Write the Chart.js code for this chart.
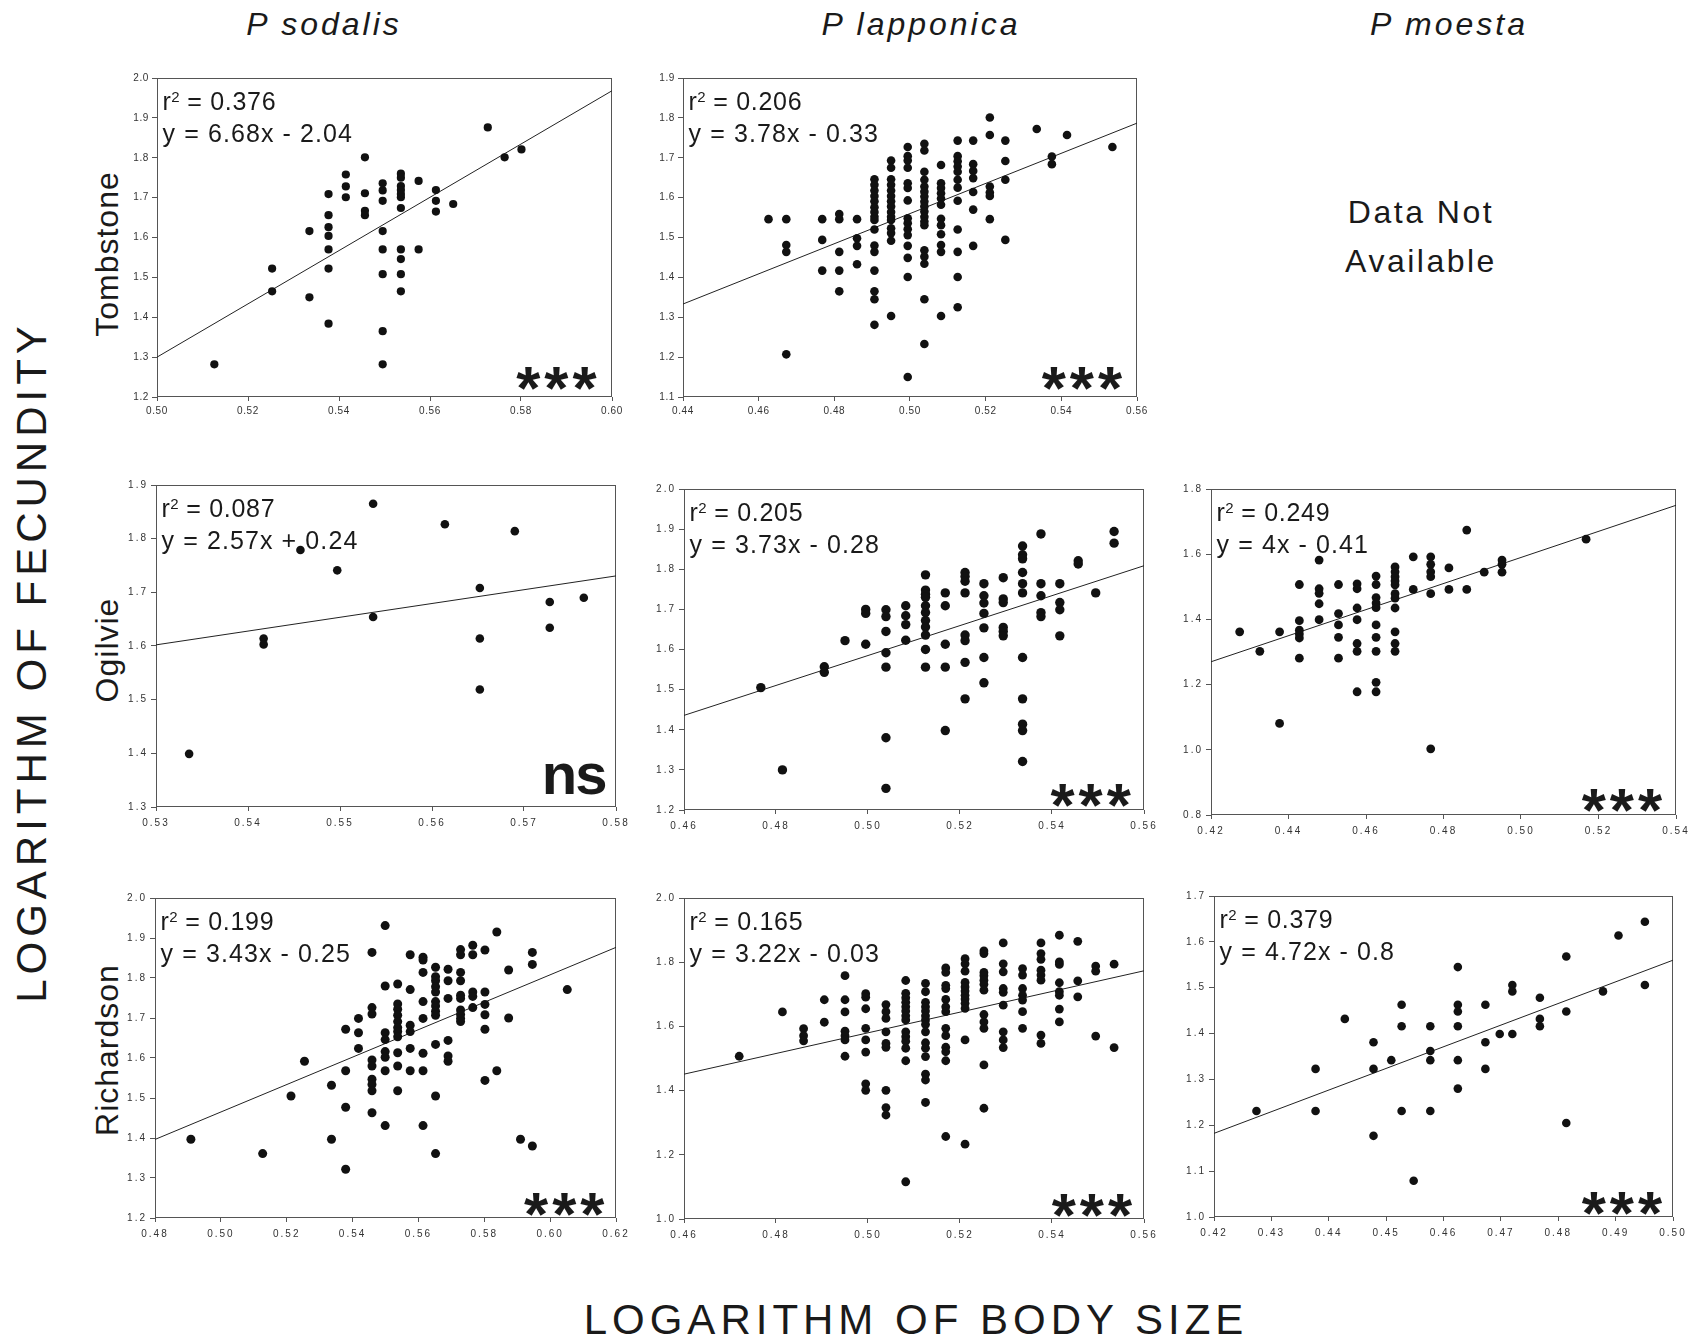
<!DOCTYPE html>
<html><head><meta charset="utf-8">
<script src="https://cdn.jsdelivr.net/npm/chart.js@4.4.1/dist/chart.umd.min.js"></script>
<style>
html,body{margin:0;padding:0;background:#fff;}
body{width:1695px;height:1344px;position:relative;overflow:hidden;font-family:"Liberation Sans",Arial,Helvetica,sans-serif;color:#1a1a1a;}
.t{position:absolute;white-space:nowrap;line-height:1;}
canvas{position:absolute;}
</style></head><body>
<div class="t" style="left:124px;width:400px;top:8px;font-size:32px;font-style:italic;text-align:center;letter-spacing:3px">P sodalis</div>
<div class="t" style="left:721px;width:400px;top:8px;font-size:32px;font-style:italic;text-align:center;letter-spacing:3px">P lapponica</div>
<div class="t" style="left:1249px;width:400px;top:8px;font-size:32px;font-style:italic;text-align:center;letter-spacing:3px">P moesta</div>
<div class="t" style="left:-368px;width:800px;top:641px;height:42px;font-size:42px;text-align:center;letter-spacing:5px;transform:rotate(-90deg)">LOGARITHM OF FECUNDITY</div>
<div class="t" style="left:516px;width:800px;top:1299px;font-size:42px;text-align:center;letter-spacing:5px">LOGARITHM OF BODY SIZE</div>
<div class="t" style="left:-43px;width:300px;top:238px;height:32px;font-size:32px;text-align:center;letter-spacing:1px;transform:rotate(-90deg)">Tombstone</div>
<div class="t" style="left:-43px;width:300px;top:634px;height:32px;font-size:32px;text-align:center;letter-spacing:1px;transform:rotate(-90deg)">Ogilvie</div>
<div class="t" style="left:-43px;width:300px;top:1034px;height:32px;font-size:32px;text-align:center;letter-spacing:1px;transform:rotate(-90deg)">Richardson</div>
<div class="t" style="left:1271px;width:300px;top:196px;font-size:32px;text-align:center;letter-spacing:2.5px">Data Not</div>
<div class="t" style="left:1271px;width:300px;top:245px;font-size:32px;text-align:center;letter-spacing:2.5px">Available</div>
<script>
// ---------- DATA (log body size, log fecundity) ----------
const tombSodalis = [[0.5126,1.282],[0.5253,1.522],[0.5253,1.465],[0.5335,1.616],[0.5335,1.450],
[0.5377,1.709],[0.5377,1.656],[0.5377,1.626],[0.5377,1.604],[0.5377,1.570],[0.5377,1.522],[0.5377,1.384],
[0.5415,1.758],[0.5415,1.728],[0.5415,1.701],[0.5457,1.801],[0.5457,1.711],[0.5457,1.667],[0.5457,1.656],
[0.5496,1.736],[0.5496,1.718],[0.5496,1.692],[0.5496,1.616],[0.5496,1.570],[0.5496,1.508],[0.5496,1.365],[0.5496,1.282],
[0.5536,1.760],[0.5536,1.750],[0.5536,1.729],[0.5536,1.719],[0.5536,1.709],[0.5536,1.701],[0.5536,1.674],[0.5536,1.570],
[0.5536,1.546],[0.5536,1.508],[0.5536,1.465],[0.5575,1.742],[0.5575,1.570],[0.5613,1.719],[0.5613,1.692],[0.5613,1.665],
[0.5651,1.684],[0.5727,1.876],[0.5764,1.801],[0.5801,1.821]];

const tombLapponica = [[0.4626,1.546],
[0.4673,1.546],[0.4673,1.481],[0.4673,1.464],[0.4673,1.207],
[0.4768,1.546],[0.4768,1.494],[0.4768,1.417],
[0.4813,1.559],[0.4813,1.546],[0.4813,1.464],[0.4813,1.417],[0.4813,1.365],
[0.4860,1.546],[0.4860,1.498],[0.4860,1.479],[0.4860,1.433],
[0.4906,1.646],[0.4906,1.632],[0.4906,1.618],[0.4906,1.604],[0.4906,1.591],[0.4906,1.576],[0.4906,1.564],[0.4906,1.552],
[0.4906,1.544],[0.4906,1.520],[0.4906,1.480],[0.4906,1.464],[0.4906,1.417],[0.4906,1.365],[0.4906,1.345],[0.4906,1.281],
[0.4950,1.693],[0.4950,1.675],[0.4950,1.646],[0.4950,1.632],[0.4950,1.618],[0.4950,1.604],[0.4950,1.591],[0.4950,1.578],
[0.4950,1.564],[0.4950,1.552],[0.4950,1.544],[0.4950,1.523],[0.4950,1.511],[0.4950,1.492],[0.4950,1.303],
[0.4994,1.727],[0.4994,1.704],[0.4994,1.693],[0.4994,1.675],[0.4994,1.636],[0.4994,1.624],[0.4994,1.593],[0.4994,1.548],
[0.4994,1.536],[0.4994,1.521],[0.4994,1.506],[0.4994,1.479],[0.4994,1.449],[0.4994,1.401],[0.4994,1.150],
[0.5038,1.735],[0.5038,1.718],[0.5038,1.665],[0.5038,1.645],[0.5038,1.628],[0.5038,1.615],[0.5038,1.603],[0.5038,1.590],
[0.5038,1.578],[0.5038,1.565],[0.5038,1.552],[0.5038,1.540],[0.5038,1.531],[0.5038,1.468],[0.5038,1.452],[0.5038,1.434],
[0.5038,1.345],[0.5038,1.233],
[0.5082,1.682],[0.5082,1.636],[0.5082,1.624],[0.5082,1.611],[0.5082,1.598],[0.5082,1.582],[0.5082,1.547],[0.5082,1.531],
[0.5082,1.508],[0.5082,1.481],[0.5082,1.464],[0.5082,1.303],
[0.5126,1.743],[0.5126,1.704],[0.5126,1.691],[0.5126,1.678],[0.5126,1.665],[0.5126,1.645],[0.5126,1.625],[0.5126,1.592],
[0.5126,1.520],[0.5126,1.464],[0.5126,1.401],[0.5126,1.325],
[0.5167,1.743],[0.5167,1.684],[0.5167,1.667],[0.5167,1.649],[0.5167,1.614],[0.5167,1.570],[0.5167,1.479],
[0.5211,1.801],[0.5211,1.757],[0.5211,1.628],[0.5211,1.613],[0.5211,1.604],[0.5211,1.546],
[0.5252,1.743],[0.5252,1.692],[0.5252,1.645],[0.5252,1.494],
[0.5335,1.772],[0.5375,1.703],[0.5375,1.684],[0.5415,1.757],[0.5535,1.727]];

const ogilSodalis = [[0.5336,1.399],[0.5417,1.614],[0.5417,1.603],[0.5457,1.779],[0.5497,1.741],[0.5536,1.865],
[0.5536,1.654],[0.5614,1.827],[0.5652,1.708],[0.5652,1.614],[0.5652,1.519],[0.5690,1.814],[0.5728,1.682],
[0.5728,1.634],[0.5765,1.690]];

const ogilLapponica = [[0.4767,1.505],[0.4814,1.300],[0.4905,1.557],[0.4905,1.543],[0.4950,1.622],
[0.4995,1.700],[0.4995,1.690],[0.4995,1.613],
[0.5039,1.699],[0.5039,1.682],[0.5039,1.645],[0.5039,1.592],[0.5039,1.556],[0.5039,1.380],[0.5039,1.254],
[0.5082,1.709],[0.5082,1.684],[0.5082,1.662],[0.5082,1.623],
[0.5125,1.786],[0.5125,1.748],[0.5125,1.738],[0.5125,1.730],[0.5125,1.709],[0.5125,1.692],[0.5125,1.672],[0.5125,1.656],
[0.5125,1.636],[0.5125,1.600],[0.5125,1.556],
[0.5168,1.741],[0.5168,1.709],[0.5168,1.613],[0.5168,1.556],[0.5168,1.398],
[0.5211,1.792],[0.5211,1.782],[0.5211,1.770],[0.5211,1.741],[0.5211,1.636],[0.5211,1.622],[0.5211,1.568],[0.5211,1.477],
[0.5252,1.764],[0.5252,1.734],[0.5252,1.716],[0.5252,1.690],[0.5252,1.654],[0.5252,1.580],[0.5252,1.517],
[0.5294,1.779],[0.5294,1.726],[0.5294,1.717],[0.5294,1.655],[0.5294,1.645],[0.5294,1.634],
[0.5336,1.858],[0.5336,1.836],[0.5336,1.826],[0.5336,1.792],[0.5336,1.764],[0.5336,1.741],[0.5336,1.580],[0.5336,1.477],
[0.5336,1.414],[0.5336,1.398],[0.5336,1.321],
[0.5376,1.888],[0.5376,1.764],[0.5376,1.734],[0.5376,1.692],[0.5376,1.682],
[0.5417,1.764],[0.5417,1.717],[0.5417,1.699],[0.5417,1.634],
[0.5457,1.821],[0.5457,1.813],[0.5495,1.741],[0.5535,1.894],[0.5535,1.865]];

const ogilMoesta = [[0.4274,1.362],[0.4326,1.302],[0.4377,1.362],[0.4377,1.081],
[0.4428,1.507],[0.4428,1.396],[0.4428,1.367],[0.4428,1.355],[0.4428,1.343],[0.4428,1.281],
[0.4479,1.582],[0.4479,1.494],[0.4479,1.480],[0.4479,1.448],[0.4479,1.399],
[0.4529,1.507],[0.4529,1.418],[0.4529,1.383],[0.4529,1.345],[0.4529,1.281],
[0.4577,1.509],[0.4577,1.494],[0.4577,1.435],[0.4577,1.399],[0.4577,1.326],[0.4577,1.302],[0.4577,1.178],
[0.4626,1.533],[0.4626,1.507],[0.4626,1.467],[0.4626,1.450],[0.4626,1.436],[0.4626,1.383],[0.4626,1.345],[0.4626,1.302],
[0.4626,1.207],[0.4626,1.178],
[0.4675,1.561],[0.4675,1.546],[0.4675,1.531],[0.4675,1.518],[0.4675,1.506],[0.4675,1.479],[0.4675,1.465],[0.4675,1.435],
[0.4675,1.362],[0.4675,1.326],[0.4675,1.302],
[0.4722,1.592],[0.4722,1.492],
[0.4767,1.592],[0.4767,1.569],[0.4767,1.546],[0.4767,1.531],[0.4767,1.479],[0.4767,1.003],
[0.4814,1.558],[0.4814,1.492],[0.4860,1.674],[0.4860,1.492],[0.4905,1.545],
[0.4951,1.582],[0.4951,1.569],[0.4951,1.545],[0.5168,1.646]];

const richSodalis = [[0.4909,1.397],[0.5127,1.361],[0.5213,1.505],[0.5254,1.592],[0.5336,1.532],[0.5336,1.397],
[0.5379,1.672],[0.5379,1.568],[0.5379,1.477],[0.5379,1.322],
[0.5418,1.699],[0.5418,1.663],[0.5418,1.624],
[0.5459,1.864],[0.5459,1.726],[0.5459,1.710],[0.5459,1.595],[0.5459,1.580],[0.5459,1.547],[0.5459,1.534],[0.5459,1.518],[0.5459,1.463],
[0.5499,1.931],[0.5499,1.780],[0.5499,1.663],[0.5499,1.646],[0.5499,1.616],[0.5499,1.602],[0.5499,1.568],[0.5499,1.431],
[0.5537,1.785],[0.5537,1.735],[0.5537,1.722],[0.5537,1.707],[0.5537,1.691],[0.5537,1.676],[0.5537,1.666],[0.5537,1.653],
[0.5537,1.613],[0.5537,1.580],[0.5537,1.518],
[0.5575,1.858],[0.5575,1.771],[0.5575,1.682],[0.5575,1.666],[0.5575,1.624],[0.5575,1.568],
[0.5614,1.852],[0.5614,1.845],[0.5614,1.814],[0.5614,1.741],[0.5614,1.699],[0.5614,1.612],[0.5614,1.568],[0.5614,1.431],
[0.5652,1.827],[0.5652,1.803],[0.5652,1.793],[0.5652,1.778],[0.5652,1.765],[0.5652,1.741],[0.5652,1.730],[0.5652,1.717],
[0.5652,1.707],[0.5652,1.634],[0.5652,1.505],[0.5652,1.361],
[0.5690,1.822],[0.5690,1.793],[0.5690,1.749],[0.5690,1.644],[0.5690,1.605],[0.5690,1.592],
[0.5728,1.871],[0.5728,1.858],[0.5728,1.814],[0.5728,1.793],[0.5728,1.757],[0.5728,1.749],[0.5728,1.720],[0.5728,1.709],
[0.5728,1.699],[0.5728,1.691],
[0.5765,1.882],[0.5765,1.858],[0.5765,1.765],[0.5765,1.754],[0.5765,1.726],
[0.5802,1.870],[0.5802,1.765],[0.5802,1.734],[0.5802,1.708],[0.5802,1.672],[0.5802,1.544],
[0.5838,1.915],[0.5838,1.568],[0.5874,1.820],[0.5874,1.700],[0.5910,1.397],
[0.5946,1.864],[0.5946,1.834],[0.5946,1.380],[0.6052,1.771]];

const richLapponica = [[0.4720,1.507],[0.4814,1.645],[0.4860,1.593],[0.4860,1.571],[0.4860,1.555],
[0.4905,1.683],[0.4905,1.613],
[0.4950,1.758],[0.4950,1.683],[0.4950,1.645],[0.4950,1.585],[0.4950,1.571],[0.4950,1.558],[0.4950,1.507],
[0.4995,1.702],[0.4995,1.691],[0.4995,1.655],[0.4995,1.594],[0.4995,1.558],[0.4995,1.520],[0.4995,1.421],[0.4995,1.401],
[0.5039,1.668],[0.5039,1.646],[0.5039,1.625],[0.5039,1.583],[0.5039,1.547],[0.5039,1.535],[0.5039,1.401],[0.5039,1.347],[0.5039,1.324],
[0.5082,1.743],[0.5082,1.703],[0.5082,1.689],[0.5082,1.675],[0.5082,1.661],[0.5082,1.648],[0.5082,1.633],[0.5082,1.620],
[0.5082,1.583],[0.5082,1.568],[0.5082,1.554],[0.5082,1.532],[0.5082,1.493],[0.5082,1.116],
[0.5125,1.734],[0.5125,1.708],[0.5125,1.675],[0.5125,1.661],[0.5125,1.648],[0.5125,1.633],[0.5125,1.620],[0.5125,1.606],
[0.5125,1.583],[0.5125,1.549],[0.5125,1.532],[0.5125,1.506],[0.5125,1.451],[0.5125,1.433],[0.5125,1.363],
[0.5169,1.782],[0.5169,1.768],[0.5169,1.728],[0.5169,1.718],[0.5169,1.684],[0.5169,1.661],[0.5169,1.646],[0.5169,1.594],
[0.5169,1.571],[0.5169,1.535],[0.5169,1.521],[0.5169,1.493],[0.5169,1.257],
[0.5211,1.811],[0.5211,1.795],[0.5211,1.772],[0.5211,1.737],[0.5211,1.723],[0.5211,1.710],[0.5211,1.697],[0.5211,1.685],
[0.5211,1.672],[0.5211,1.656],[0.5211,1.558],[0.5211,1.233],
[0.5252,1.835],[0.5252,1.827],[0.5252,1.768],[0.5252,1.758],[0.5252,1.744],[0.5252,1.731],[0.5252,1.713],[0.5252,1.637],
[0.5252,1.614],[0.5252,1.594],[0.5252,1.480],[0.5252,1.345],
[0.5294,1.860],[0.5294,1.795],[0.5294,1.770],[0.5294,1.718],[0.5294,1.706],[0.5294,1.666],[0.5294,1.583],[0.5294,1.558],[0.5294,1.534],
[0.5336,1.780],[0.5336,1.760],[0.5336,1.718],[0.5336,1.697],[0.5336,1.682],[0.5336,1.646],[0.5336,1.594],
[0.5376,1.860],[0.5376,1.827],[0.5376,1.809],[0.5376,1.775],[0.5376,1.760],[0.5376,1.744],[0.5376,1.573],[0.5376,1.547],
[0.5416,1.884],[0.5416,1.801],[0.5416,1.793],[0.5416,1.736],[0.5416,1.708],[0.5416,1.697],[0.5416,1.654],[0.5416,1.614],
[0.5456,1.865],[0.5456,1.742],[0.5456,1.692],[0.5495,1.788],[0.5495,1.772],[0.5495,1.570],[0.5535,1.794],[0.5535,1.534]];

const richMoesta = [[0.4274,1.231],[0.4377,1.323],[0.4377,1.231],[0.4428,1.432],[0.4478,1.381],[0.4478,1.323],
[0.4478,1.177],[0.4509,1.342],[0.4527,1.463],[0.4527,1.416],[0.4527,1.231],[0.4548,1.079],
[0.4577,1.416],[0.4577,1.362],[0.4577,1.342],[0.4577,1.231],
[0.4625,1.545],[0.4625,1.463],[0.4625,1.448],[0.4625,1.416],[0.4625,1.342],[0.4625,1.280],
[0.4673,1.463],[0.4673,1.381],[0.4673,1.323],[0.4698,1.399],[0.4720,1.506],[0.4720,1.492],[0.4720,1.399],
[0.4768,1.478],[0.4768,1.432],[0.4768,1.416],[0.4814,1.568],[0.4814,1.448],[0.4814,1.205],
[0.4878,1.492],[0.4905,1.614],[0.4951,1.644],[0.4951,1.506]];

// tick labels
const xTicksA = ['0.50','0.52','0.54','0.56','0.58','0.60'];
const yTicksA = ['1.2','1.3','1.4','1.5','1.6','1.7','1.8','1.9','2.0'];
const xTicksB = ['0.44','0.46','0.48','0.50','0.52','0.54','0.56'];
const yTicksB = ['1.1','1.2','1.3','1.4','1.5','1.6','1.7','1.8','1.9'];
const xTicksC = ['0.53','0.54','0.55','0.56','0.57','0.58'];
const yTicksC = ['1.3','1.4','1.5','1.6','1.7','1.8','1.9'];
const xTicksD = ['0.46','0.48','0.50','0.52','0.54','0.56'];
const yTicksD = ['1.2','1.3','1.4','1.5','1.6','1.7','1.8','1.9','2.0'];
const xTicksE = ['0.42','0.44','0.46','0.48','0.50','0.52','0.54'];
const yTicksE = ['0.8','1.0','1.2','1.4','1.6','1.8'];
const xTicksF = ['0.48','0.50','0.52','0.54','0.56','0.58','0.60','0.62'];
const yTicksF = ['1.2','1.3','1.4','1.5','1.6','1.7','1.8','1.9','2.0'];
const xTicksG = ['0.46','0.48','0.50','0.52','0.54','0.56'];
const yTicksG = ['1.0','1.2','1.4','1.6','1.8','2.0'];
const xTicksH = ['0.42','0.43','0.44','0.45','0.46','0.47','0.48','0.49','0.50'];
const yTicksH = ['1.0','1.1','1.2','1.3','1.4','1.5','1.6','1.7'];

// regression results
const slopes     = [6.68, 3.78, 2.57, 3.73, 4, 3.43, 3.22, 4.72];
const intercepts = [-2.04, -0.33, 0.24, -0.28, -0.41, -0.25, -0.03, -0.8];
const r2Labels   = ['0.376','0.206','0.087','0.205','0.249','0.199','0.165','0.379'];
const eqLabels   = ['y = 6.68x - 2.04','y = 3.78x - 0.33','y = 2.57x + 0.24','y = 3.73x - 0.28',
                    'y = 4x - 0.41','y = 3.43x - 0.25','y = 3.22x - 0.03','y = 4.72x - 0.8'];
const sigLabels  = ['***','***','ns','***','***','***','***','***'];

// ---------- LAYOUT ----------
const FONT = '"Liberation Sans", Arial, Helvetica, sans-serif';
const panels = [
  {data:tombSodalis,  xt:xTicksA, yt:yTicksA, L:157, T:78,  R:612,  B:397,  r:4.1, sp:0.6, sigR:14.5, sigB:7},
  {data:tombLapponica,xt:xTicksB, yt:yTicksB, L:683, T:78,  R:1137, B:397,  r:4.3, sp:0.6, sigR:14,   sigB:7},
  {data:ogilSodalis,  xt:xTicksC, yt:yTicksC, L:156, T:485, R:616,  B:807,  r:4.3, sp:2,   sigR:10.7, sigB:11.7},
  {data:ogilLapponica,xt:xTicksD, yt:yTicksD, L:684, T:489, R:1144, B:810,  r:4.7, sp:2,   sigR:12.3, sigB:3.3},
  {data:ogilMoesta,   xt:xTicksE, yt:yTicksE, L:1211,T:489, R:1676, B:815,  r:4.4, sp:2,   sigR:13,   sigB:3.3},
  {data:richSodalis,  xt:xTicksF, yt:yTicksF, L:155, T:898, R:616,  B:1218, r:4.5, sp:2,   sigR:10.7, sigB:1.6},
  {data:richLapponica,xt:xTicksG, yt:yTicksG, L:684, T:898, R:1144, B:1219, r:4.4, sp:2,   sigR:11,   sigB:2.3},
  {data:richMoesta,   xt:xTicksH, yt:yTicksH, L:1214,T:896, R:1673, B:1217, r:4.3, sp:2,   sigR:10,   sigB:2}
];

const framePlugin = {
  id:'frame',
  beforeDraw(chart){ chart.ctx.letterSpacing = chart.options.plugins.frame.sp + 'px'; },
  beforeDatasetsDraw(chart){
    const {ctx, chartArea:a} = chart;
    ctx.save(); ctx.letterSpacing='0px';
    ctx.strokeStyle='#555'; ctx.lineWidth=1;
    ctx.strokeRect(Math.round(a.left)+0.5, Math.round(a.top)+0.5, Math.round(a.right-a.left)-1, Math.round(a.bottom-a.top)-1);
    ctx.restore();
  },
  afterDatasetsDraw(chart){
    const o = chart.options.plugins.frame, {ctx, chartArea:a} = chart;
    ctx.save();
    ctx.fillStyle='#1a1a1a'; ctx.textAlign='left'; ctx.textBaseline='alphabetic';
    const x0 = a.left + 5.5, y1 = a.top + 31.5, y2 = a.top + 63.5;
    ctx.letterSpacing='0px';
    ctx.font = '25px ' + FONT; ctx.fillText('r', x0, y1);
    const wr = ctx.measureText('r').width;
    ctx.font = '15px ' + FONT; ctx.fillText('2', x0 + wr + 0.5, y1 - 8);
    const w2 = ctx.measureText('2').width;
    ctx.font = '25px ' + FONT; ctx.letterSpacing='0.7px';
    ctx.fillText(' = ' + o.r2, x0 + wr + 0.5 + w2, y1);
    ctx.letterSpacing='1.1px';
    ctx.fillText(o.eq, x0, y2);
    if (o.sig === 'ns') { ctx.font = 'bold 58px ' + FONT; ctx.letterSpacing='-2px'; }
    else { ctx.font = 'bold 62px ' + FONT; ctx.letterSpacing='4px'; }
    const m = ctx.measureText(o.sig);
    const tx = a.right - o.sigR - m.actualBoundingBoxRight;
    const ty = a.bottom - o.sigB - m.actualBoundingBoxDescent;
    ctx.fillText(o.sig, tx, ty);
    ctx.restore();
  }
};

panels.forEach((p, i) => {
  const PADL = 44, PADT = 10, PADR = 24, PADB = 30;
  const w = p.R - p.L, h = p.B - p.T;
  const cv = document.createElement('canvas');
  cv.width = w + PADL + PADR; cv.height = h + PADT + PADB;
  cv.style.left = (p.L - PADL) + 'px'; cv.style.top = (p.T - PADT) + 'px';
  cv.style.width = cv.width + 'px'; cv.style.height = cv.height + 'px';
  document.body.appendChild(cv);
  const xv = p.xt.map(Number), yv = p.yt.map(Number);
  const xmin = xv[0], xmax = xv[xv.length-1];
  const row1 = i < 2;
  const tickFont = {family: FONT, size: 10};
  new Chart(cv, {
    type: 'scatter',
    data: {datasets: [
      {type:'line', data:[{x:xmin, y:slopes[i]*xmin+intercepts[i]}, {x:xmax, y:slopes[i]*xmax+intercepts[i]}],
       borderColor:'#222', borderWidth:1, pointRadius:0, fill:false, order:2},
      {data: p.data.map(([x,y]) => ({x, y})), backgroundColor:'#111', borderColor:'#111',
       pointRadius:p.r, pointBorderWidth:0, borderWidth:0, order:1}
    ]},
    options: {
      responsive:false, animation:false, devicePixelRatio:1,
      layout:{padding:{left:0, top:PADT, right:PADR, bottom:0}},
      plugins:{legend:{display:false}, tooltip:{enabled:false},
        frame:{sp:p.sp, r2:r2Labels[i], eq:eqLabels[i], sig:sigLabels[i], sigR:p.sigR, sigB:p.sigB}},
      scales:{
        x:{type:'linear', min:xmin, max:xmax,
          afterBuildTicks:s => { s.ticks = xv.map(v => ({value:v})); },
          afterFit:s => { s.height = PADB; s.paddingLeft = 0; s.paddingRight = 0; },
          ticks:{callback:(v, idx) => p.xt[idx], font:tickFont, color:'#333', padding:row1?4:6, maxRotation:0, minRotation:0, autoSkip:false},
          grid:{drawOnChartArea:false, drawTicks:true, tickLength:4, color:'#555'},
          border:{display:false}},
        y:{type:'linear', min:yv[0], max:yv[yv.length-1],
          afterBuildTicks:s => { s.ticks = yv.map(v => ({value:v})); },
          afterFit:s => { s.width = PADL; s.paddingTop = 0; s.paddingBottom = 0; },
          ticks:{callback:(v, idx) => p.yt[idx], font:tickFont, color:'#333', padding:3, autoSkip:false},
          grid:{drawOnChartArea:false, drawTicks:true, tickLength:5, color:'#555'},
          border:{display:false}}
      }
    },
    plugins:[framePlugin]
  });
});
</script>
</body></html>
